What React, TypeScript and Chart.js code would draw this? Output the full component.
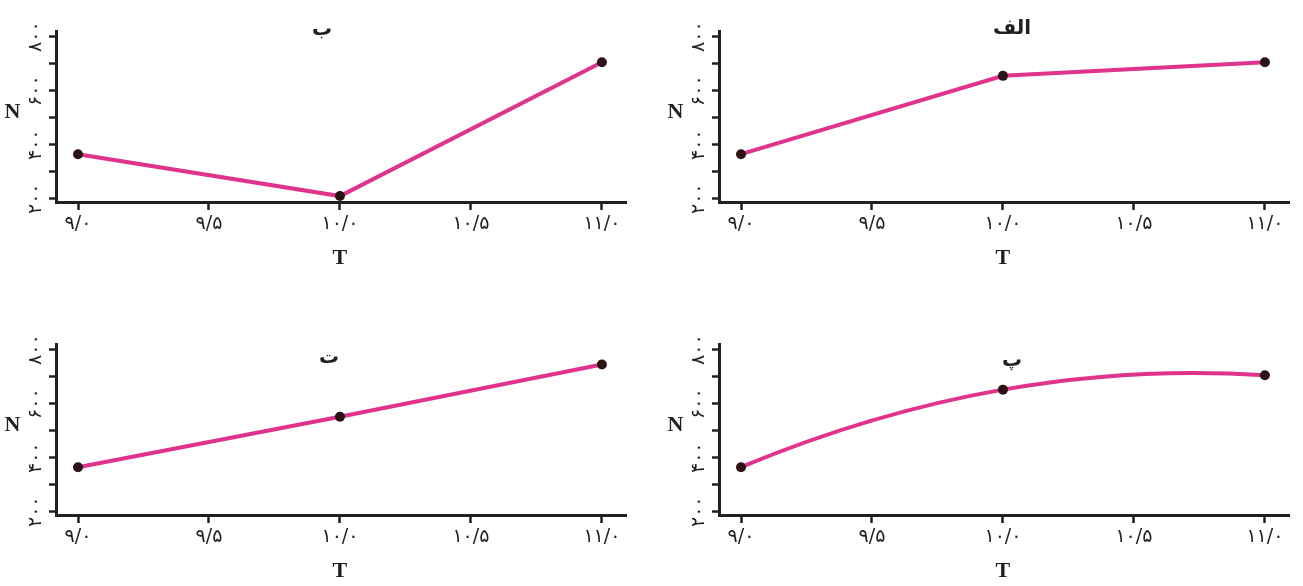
import React, { useEffect, useRef } from 'react';
import { Chart, registerables } from 'chart.js';

Chart.register(...registerables);

// ---- data ----
const T_VALUES = [9.0, 10.0, 11.0];
const N_ALEF = [365, 655, 705];
const N_BE = [365, 210, 705];
const N_PE = [365, 652, 705];
const N_TE = [365, 552, 745];

const X_TICK_VALUES = [9.0, 9.5, 10.0, 10.5, 11.0];
const X_TICK_LABELS = ['۹/۰', '۹/۵', '۱۰/۰', '۱۰/۵', '۱۱/۰'];
const Y_TICK_VALUES = [200, 300, 400, 500, 600, 700, 800];
const Y_LABEL_VALUES = [200, 400, 600, 800];
const Y_LABELS = ['۲۰۰', '۴۰۰', '۶۰۰', '۸۰۰'];
const X_TITLE = 'T';
const Y_TITLE = 'N';

const AXIS_COLOR = '#231f20';
const LINE_COLOR = '#e0338b';
const POINT_COLOR = '#2b1214';

const W = 640;
const H = 273;

type PanelCfg = {
  title: string;
  values: number[];
  smooth: boolean;
  left: number;
  top: number;
  titleX: number;
  titleY: number;
};

const PANELS: PanelCfg[] = [
  { title: 'ب', values: N_BE, smooth: false, left: 0, top: 0, titleX: 322, titleY: 35 },
  { title: 'الف', values: N_ALEF, smooth: false, left: 663, top: 0, titleX: 349, titleY: 34 },
  { title: 'ت', values: N_TE, smooth: false, left: 0, top: 313, titleX: 329, titleY: 50 },
  { title: 'پ', values: N_PE, smooth: true, left: 663, top: 313, titleX: 349, titleY: 53 },
];

// Smooth interpolation: Bezier control points from the tangents of the
// parabola passing through the three plotted points (in pixel space).
function smoothCurvePlugin(enabled: boolean) {
  return {
    id: 'parabolicSmooth',
    beforeDatasetsDraw(chart: any) {
      if (!enabled) return;
      const meta = chart.getDatasetMeta(0);
      const line = meta.dataset;
      if (!line) return;
      line.updateControlPoints(chart.chartArea, 'x');
      const pts = meta.data;
      if (pts.length !== 3) return;
      const [p0, p1, p2] = pts;
      const x0 = p0.x, x1 = p1.x, x2 = p2.x;
      const y0 = p0.y, y1 = p1.y, y2 = p2.y;
      const d = (x: number) =>
        y0 * ((2 * x - x1 - x2) / ((x0 - x1) * (x0 - x2))) +
        y1 * ((2 * x - x0 - x2) / ((x1 - x0) * (x1 - x2))) +
        y2 * ((2 * x - x0 - x1) / ((x2 - x0) * (x2 - x1)));
      const m = [d(x0), d(x1), d(x2)];
      for (let i = 0; i < 3; i++) {
        const p = pts[i];
        const prev = pts[i - 1];
        const next = pts[i + 1];
        if (prev) {
          const h = (p.x - prev.x) / 3;
          p.cp1x = p.x - h;
          p.cp1y = p.y - m[i] * h;
        } else {
          p.cp1x = p.x;
          p.cp1y = p.y;
        }
        if (next) {
          const h = (next.x - p.x) / 3;
          p.cp2x = p.x + h;
          p.cp2y = p.y + m[i] * h;
        } else {
          p.cp2x = p.x;
          p.cp2y = p.y;
        }
      }
    },
  };
}

function Panel({ cfg }: { cfg: PanelCfg }) {
  const ref = useRef<HTMLCanvasElement | null>(null);
  useEffect(() => {
    if (!ref.current) return;
    const textPlugin = {
      id: 'panelText',
      beforeDraw(chart: any) {
        chart.ctx.letterSpacing = '1px';
      },
      afterDraw(chart: any) {
        const { ctx, chartArea, scales } = chart;
        const ys = scales.y;
        const xs = scales.x;
        ctx.save();
        ctx.fillStyle = AXIS_COLOR;
        // rotated y tick labels
        ctx.font = '19px "DejaVu Sans"';
        ctx.letterSpacing = '1px';
        ctx.textAlign = 'center';
        ctx.textBaseline = 'middle';
        Y_LABEL_VALUES.forEach((v, i) => {
          const py = ys.getPixelForValue(v);
          ctx.save();
          ctx.translate(chartArea.left - 20, py);
          ctx.rotate(-Math.PI / 2);
          ctx.fillText(Y_LABELS[i], 0, 0);
          ctx.restore();
        });
        ctx.letterSpacing = '0px';
        // axis titles
        ctx.font = 'bold 22px "Liberation Serif"';
        ctx.textAlign = 'center';
        ctx.textBaseline = 'middle';
        ctx.fillText(Y_TITLE, 12.5, (chartArea.top + chartArea.bottom) / 2 - 4);
        ctx.fillText(X_TITLE, xs.getPixelForValue(10), chartArea.bottom + 56);
        // panel title
        ctx.font = 'bold 20px "DejaVu Sans"';
        ctx.textBaseline = 'alphabetic';
        ctx.fillText(cfg.title, cfg.titleX, cfg.titleY);
        ctx.restore();
      },
    };
    const chart = new Chart(ref.current, {
      type: 'line',
      data: {
        datasets: [
          {
            data: T_VALUES.map((t, i) => ({ x: t, y: cfg.values[i] })),
            borderColor: LINE_COLOR,
            borderWidth: 4,
            tension: cfg.smooth ? 0.4 : 0,
            pointRadius: 5,
            pointBackgroundColor: POINT_COLOR,
            pointBorderColor: POINT_COLOR,
            pointBorderWidth: 0,
            fill: false,
          },
        ],
      },
      options: {
        animation: false,
        responsive: false,
        events: [],
        layout: { padding: { left: 0, right: W - 626, top: 31, bottom: 0 } },
        plugins: { legend: { display: false }, tooltip: { enabled: false } },
        scales: {
          x: {
            type: 'linear',
            min: 8.916,
            max: 11.092,
            afterBuildTicks: (scale: any) => {
              scale.ticks = X_TICK_VALUES.map((v) => ({ value: v }));
            },
            afterFit: (scale: any) => {
              scale.height = H - 31 - 171;
            },
            ticks: {
              autoSkip: false,
              maxRotation: 0,
              minRotation: 0,
              padding: 3,
              color: AXIS_COLOR,
              font: { family: '"DejaVu Sans"', size: 19 },
              callback: (v: any) => {
                const i = X_TICK_VALUES.findIndex((x) => Math.abs(x - Number(v)) < 1e-6);
                return i >= 0 ? X_TICK_LABELS[i] : '';
              },
            },
            grid: {
              display: true,
              drawOnChartArea: false,
              drawTicks: true,
              tickLength: 8,
              tickWidth: 2.5,
              tickColor: AXIS_COLOR,
            },
            border: { display: true, color: AXIS_COLOR, width: 3 },
          },
          y: {
            type: 'linear',
            min: 188,
            max: 821,
            afterBuildTicks: (scale: any) => {
              scale.ticks = Y_TICK_VALUES.map((v) => ({ value: v }));
            },
            afterFit: (scale: any) => {
              scale.width = 56;
            },
            ticks: { display: false },
            grid: {
              display: true,
              drawOnChartArea: false,
              drawTicks: true,
              tickLength: 7,
              tickWidth: 2.5,
              tickColor: AXIS_COLOR,
            },
            border: { display: true, color: AXIS_COLOR, width: 3 },
          },
        },
      },
      plugins: [smoothCurvePlugin(cfg.smooth), textPlugin],
    });
    return () => chart.destroy();
  }, [cfg]);
  return (
    <div style={{ position: 'absolute', left: cfg.left, top: cfg.top, width: W, height: H }}>
      <canvas ref={ref} width={W} height={H} style={{ width: W, height: H, display: 'block' }} />
    </div>
  );
}

export default function App() {
  useEffect(() => {
    document.body.style.margin = '0';
    document.body.style.background = '#ffffff';
  }, []);
  return (
    <div style={{ position: 'relative', width: 1303, height: 586, background: '#ffffff', overflow: 'hidden' }}>
      {PANELS.map((p, i) => (
        <Panel key={i} cfg={p} />
      ))}
    </div>
  );
}
